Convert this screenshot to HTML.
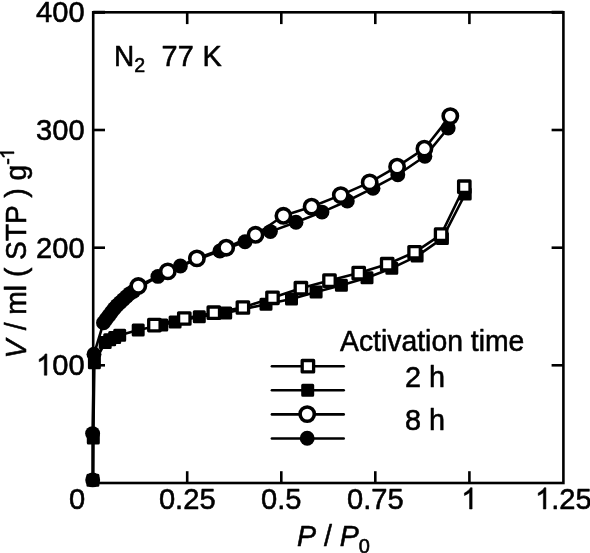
<!DOCTYPE html>
<html><head><meta charset="utf-8"><title>N2 77 K isotherm</title>
<style>
html,body{margin:0;padding:0;background:#fff;}
body{width:590px;height:553px;overflow:hidden;}
svg{display:block;font-family:"Liberation Sans",sans-serif;font-size:28px;fill:#000;will-change:transform;}
svg text{stroke:#000;stroke-width:0.55px;stroke-linejoin:round;}
svg path.g1{stroke:#000;stroke-width:0.55px;vector-effect:non-scaling-stroke;stroke-linejoin:round;}
</style></head><body>
<svg width="590" height="553" viewBox="0 0 590 553">
<rect x="0" y="0" width="590" height="553" fill="#fff"/>
<rect x="93.2" y="12.3" width="470.2" height="470.7" fill="none" stroke="#000" stroke-width="2.6"/>
<line x1="187.2" y1="483.0" x2="187.2" y2="471.2" stroke="#000" stroke-width="2.6" stroke-linecap="butt"/>
<line x1="187.2" y1="12.3" x2="187.2" y2="24.1" stroke="#000" stroke-width="2.6" stroke-linecap="butt"/>
<line x1="281.3" y1="483.0" x2="281.3" y2="471.2" stroke="#000" stroke-width="2.6" stroke-linecap="butt"/>
<line x1="281.3" y1="12.3" x2="281.3" y2="24.1" stroke="#000" stroke-width="2.6" stroke-linecap="butt"/>
<line x1="375.3" y1="483.0" x2="375.3" y2="471.2" stroke="#000" stroke-width="2.6" stroke-linecap="butt"/>
<line x1="375.3" y1="12.3" x2="375.3" y2="24.1" stroke="#000" stroke-width="2.6" stroke-linecap="butt"/>
<line x1="469.4" y1="483.0" x2="469.4" y2="471.2" stroke="#000" stroke-width="2.6" stroke-linecap="butt"/>
<line x1="469.4" y1="12.3" x2="469.4" y2="24.1" stroke="#000" stroke-width="2.6" stroke-linecap="butt"/>
<line x1="93.2" y1="365.3" x2="105.0" y2="365.3" stroke="#000" stroke-width="2.6" stroke-linecap="butt"/>
<line x1="563.4" y1="365.3" x2="551.6" y2="365.3" stroke="#000" stroke-width="2.6" stroke-linecap="butt"/>
<line x1="93.2" y1="247.7" x2="105.0" y2="247.7" stroke="#000" stroke-width="2.6" stroke-linecap="butt"/>
<line x1="563.4" y1="247.7" x2="551.6" y2="247.7" stroke="#000" stroke-width="2.6" stroke-linecap="butt"/>
<line x1="93.2" y1="130.0" x2="105.0" y2="130.0" stroke="#000" stroke-width="2.6" stroke-linecap="butt"/>
<line x1="563.4" y1="130.0" x2="551.6" y2="130.0" stroke="#000" stroke-width="2.6" stroke-linecap="butt"/>
<line x1="551.6" y1="12.3" x2="563.4" y2="12.3" stroke="#000" stroke-width="3.1" stroke-linecap="butt"/>
<line x1="93.2" y1="12.3" x2="105.0" y2="12.3" stroke="#000" stroke-width="3.1" stroke-linecap="butt"/>
<polyline points="92.9,480.2 93.3,438.0 94.4,362.7 105.2,342.4 109.7,339.7 114.7,337.4 119.7,335.3 138.2,330.0 161.8,325.1 175.1,322.0 199.3,316.8 225.7,313.1 266.0,304.2 291.5,298.9 316.1,292.0 341.4,285.2 367.0,277.8 391.8,268.2 417.1,256.1 442.4,238.4 465.2,194.0" fill="none" stroke="#000" stroke-width="2.6" stroke-linejoin="round" stroke-linecap="round"/>
<polyline points="154.4,325.1 184.3,318.5 213.8,312.7 242.9,307.5 272.5,297.8 300.9,288.2 329.5,280.6 358.7,273.1 387.2,264.2 414.6,252.3 441.1,234.6 464.3,186.7" fill="none" stroke="#000" stroke-width="2.6" stroke-linejoin="round" stroke-linecap="round"/>
<polyline points="92.7,479.9 92.6,433.6 94.0,354.2 103.5,322.8 106.1,319.3 108.8,315.8 111.4,312.2 114.1,308.8 117.0,305.5 120.2,302.5 123.4,299.5 126.6,296.5 129.9,293.6 133.6,291.2 157.9,276.4 180.4,266.0 219.9,251.0 245.0,241.8 270.4,231.6 296.0,222.3 322.0,212.1 347.3,201.0 373.0,188.2 397.8,174.8 424.9,156.3 448.2,128.0" fill="none" stroke="#000" stroke-width="2.6" stroke-linejoin="round" stroke-linecap="round"/>
<polyline points="138.3,286.0 167.8,271.4 196.9,258.4 226.2,247.7 255.5,234.8 283.4,215.8 311.6,206.7 340.8,195.1 369.7,182.4 397.1,166.7 424.4,148.7 450.3,116.1" fill="none" stroke="#000" stroke-width="2.6" stroke-linejoin="round" stroke-linecap="round"/>
<rect x="87.4" y="474.7" width="11" height="11" rx="0.5" fill="#000" stroke="#000" stroke-width="2" stroke-linejoin="round"/>
<rect x="87.8" y="432.5" width="11" height="11" rx="0.5" fill="#000" stroke="#000" stroke-width="2" stroke-linejoin="round"/>
<rect x="88.9" y="357.2" width="11" height="11" rx="0.5" fill="#000" stroke="#000" stroke-width="2" stroke-linejoin="round"/>
<rect x="99.7" y="336.9" width="11" height="11" rx="0.5" fill="#000" stroke="#000" stroke-width="2" stroke-linejoin="round"/>
<rect x="104.2" y="334.2" width="11" height="11" rx="0.5" fill="#000" stroke="#000" stroke-width="2" stroke-linejoin="round"/>
<rect x="109.2" y="331.9" width="11" height="11" rx="0.5" fill="#000" stroke="#000" stroke-width="2" stroke-linejoin="round"/>
<rect x="114.2" y="329.8" width="11" height="11" rx="0.5" fill="#000" stroke="#000" stroke-width="2" stroke-linejoin="round"/>
<rect x="132.7" y="324.5" width="11" height="11" rx="0.5" fill="#000" stroke="#000" stroke-width="2" stroke-linejoin="round"/>
<rect x="156.3" y="319.6" width="11" height="11" rx="0.5" fill="#000" stroke="#000" stroke-width="2" stroke-linejoin="round"/>
<rect x="169.6" y="316.5" width="11" height="11" rx="0.5" fill="#000" stroke="#000" stroke-width="2" stroke-linejoin="round"/>
<rect x="193.8" y="311.3" width="11" height="11" rx="0.5" fill="#000" stroke="#000" stroke-width="2" stroke-linejoin="round"/>
<rect x="220.2" y="307.6" width="11" height="11" rx="0.5" fill="#000" stroke="#000" stroke-width="2" stroke-linejoin="round"/>
<rect x="260.5" y="298.7" width="11" height="11" rx="0.5" fill="#000" stroke="#000" stroke-width="2" stroke-linejoin="round"/>
<rect x="286.0" y="293.4" width="11" height="11" rx="0.5" fill="#000" stroke="#000" stroke-width="2" stroke-linejoin="round"/>
<rect x="310.6" y="286.5" width="11" height="11" rx="0.5" fill="#000" stroke="#000" stroke-width="2" stroke-linejoin="round"/>
<rect x="335.9" y="279.7" width="11" height="11" rx="0.5" fill="#000" stroke="#000" stroke-width="2" stroke-linejoin="round"/>
<rect x="361.5" y="272.3" width="11" height="11" rx="0.5" fill="#000" stroke="#000" stroke-width="2" stroke-linejoin="round"/>
<rect x="386.3" y="262.7" width="11" height="11" rx="0.5" fill="#000" stroke="#000" stroke-width="2" stroke-linejoin="round"/>
<rect x="411.6" y="250.6" width="11" height="11" rx="0.5" fill="#000" stroke="#000" stroke-width="2" stroke-linejoin="round"/>
<rect x="436.9" y="232.9" width="11" height="11" rx="0.5" fill="#000" stroke="#000" stroke-width="2" stroke-linejoin="round"/>
<rect x="459.7" y="188.5" width="11" height="11" rx="0.5" fill="#000" stroke="#000" stroke-width="2" stroke-linejoin="round"/>
<circle cx="92.7" cy="479.9" r="7.45" fill="#000"/>
<circle cx="92.6" cy="433.6" r="7.45" fill="#000"/>
<circle cx="94.0" cy="354.2" r="7.45" fill="#000"/>
<circle cx="103.5" cy="322.8" r="7.45" fill="#000"/>
<circle cx="106.1" cy="319.3" r="7.45" fill="#000"/>
<circle cx="108.8" cy="315.8" r="7.45" fill="#000"/>
<circle cx="111.4" cy="312.2" r="7.45" fill="#000"/>
<circle cx="114.1" cy="308.8" r="7.45" fill="#000"/>
<circle cx="117.0" cy="305.5" r="7.45" fill="#000"/>
<circle cx="120.2" cy="302.5" r="7.45" fill="#000"/>
<circle cx="123.4" cy="299.5" r="7.45" fill="#000"/>
<circle cx="126.6" cy="296.5" r="7.45" fill="#000"/>
<circle cx="129.9" cy="293.6" r="7.45" fill="#000"/>
<circle cx="133.6" cy="291.2" r="7.45" fill="#000"/>
<circle cx="157.9" cy="276.4" r="7.45" fill="#000"/>
<circle cx="180.4" cy="266.0" r="7.45" fill="#000"/>
<circle cx="219.9" cy="251.0" r="7.45" fill="#000"/>
<circle cx="245.0" cy="241.8" r="7.45" fill="#000"/>
<circle cx="270.4" cy="231.6" r="7.45" fill="#000"/>
<circle cx="296.0" cy="222.3" r="7.45" fill="#000"/>
<circle cx="322.0" cy="212.1" r="7.45" fill="#000"/>
<circle cx="347.3" cy="201.0" r="7.45" fill="#000"/>
<circle cx="373.0" cy="188.2" r="7.45" fill="#000"/>
<circle cx="397.8" cy="174.8" r="7.45" fill="#000"/>
<circle cx="424.9" cy="156.3" r="7.45" fill="#000"/>
<circle cx="448.2" cy="128.0" r="7.45" fill="#000"/>
<rect x="148.70" y="319.40" width="11.4" height="11.4" fill="#fff" stroke="#000" stroke-width="3.3" stroke-linejoin="round"/>
<rect x="178.60" y="312.80" width="11.4" height="11.4" fill="#fff" stroke="#000" stroke-width="3.3" stroke-linejoin="round"/>
<rect x="208.10" y="307.00" width="11.4" height="11.4" fill="#fff" stroke="#000" stroke-width="3.3" stroke-linejoin="round"/>
<rect x="237.20" y="301.80" width="11.4" height="11.4" fill="#fff" stroke="#000" stroke-width="3.3" stroke-linejoin="round"/>
<rect x="266.80" y="292.10" width="11.4" height="11.4" fill="#fff" stroke="#000" stroke-width="3.3" stroke-linejoin="round"/>
<rect x="295.20" y="282.50" width="11.4" height="11.4" fill="#fff" stroke="#000" stroke-width="3.3" stroke-linejoin="round"/>
<rect x="323.80" y="274.90" width="11.4" height="11.4" fill="#fff" stroke="#000" stroke-width="3.3" stroke-linejoin="round"/>
<rect x="353.00" y="267.40" width="11.4" height="11.4" fill="#fff" stroke="#000" stroke-width="3.3" stroke-linejoin="round"/>
<rect x="381.50" y="258.50" width="11.4" height="11.4" fill="#fff" stroke="#000" stroke-width="3.3" stroke-linejoin="round"/>
<rect x="408.90" y="246.60" width="11.4" height="11.4" fill="#fff" stroke="#000" stroke-width="3.3" stroke-linejoin="round"/>
<rect x="435.40" y="228.90" width="11.4" height="11.4" fill="#fff" stroke="#000" stroke-width="3.3" stroke-linejoin="round"/>
<rect x="458.60" y="181.00" width="11.4" height="11.4" fill="#fff" stroke="#000" stroke-width="3.3" stroke-linejoin="round"/>
<circle cx="138.3" cy="286.0" r="7.15" fill="#fff" stroke="#000" stroke-width="3.6"/>
<circle cx="167.8" cy="271.4" r="7.15" fill="#fff" stroke="#000" stroke-width="3.6"/>
<circle cx="196.9" cy="258.4" r="7.15" fill="#fff" stroke="#000" stroke-width="3.6"/>
<circle cx="226.2" cy="247.7" r="7.15" fill="#fff" stroke="#000" stroke-width="3.6"/>
<circle cx="255.5" cy="234.8" r="7.15" fill="#fff" stroke="#000" stroke-width="3.6"/>
<circle cx="283.4" cy="215.8" r="7.15" fill="#fff" stroke="#000" stroke-width="3.6"/>
<circle cx="311.6" cy="206.7" r="7.15" fill="#fff" stroke="#000" stroke-width="3.6"/>
<circle cx="340.8" cy="195.1" r="7.15" fill="#fff" stroke="#000" stroke-width="3.6"/>
<circle cx="369.7" cy="182.4" r="7.15" fill="#fff" stroke="#000" stroke-width="3.6"/>
<circle cx="397.1" cy="166.7" r="7.15" fill="#fff" stroke="#000" stroke-width="3.6"/>
<circle cx="424.4" cy="148.7" r="7.15" fill="#fff" stroke="#000" stroke-width="3.6"/>
<circle cx="450.3" cy="116.1" r="7.15" fill="#fff" stroke="#000" stroke-width="3.6"/>
<line x1="271.9" y1="366.3" x2="343.7" y2="366.3" stroke="#000" stroke-width="2.6" stroke-linecap="round"/>
<line x1="271.9" y1="390.3" x2="343.7" y2="390.3" stroke="#000" stroke-width="2.6" stroke-linecap="round"/>
<line x1="271.9" y1="414.4" x2="343.7" y2="414.4" stroke="#000" stroke-width="2.6" stroke-linecap="round"/>
<line x1="271.9" y1="438.5" x2="343.7" y2="438.5" stroke="#000" stroke-width="2.6" stroke-linecap="round"/>
<rect x="302.20" y="360.50" width="11.4" height="11.4" fill="#fff" stroke="#000" stroke-width="3.3" stroke-linejoin="round"/>
<rect x="302.2" y="384.8" width="11" height="11" rx="0.5" fill="#000" stroke="#000" stroke-width="2" stroke-linejoin="round"/>
<circle cx="307.2" cy="414.1" r="7.15" fill="#fff" stroke="#000" stroke-width="3.6"/>
<circle cx="307.2" cy="438.3" r="7.45" fill="#000"/>
<path class="g1" transform="translate(36.03,375.22) scale(0.01422,-0.01449)" d="M763 0H583V1147Q518 1085 412.5 1023T223 930V1104Q373 1174.5 485 1275T644 1470H763Z"/>
<text transform="translate(52.22,375.22) scale(1.040,1.060)" text-anchor="start" font-size="28">00</text>
<text transform="translate(36.03,257.55) scale(1.040,1.060)" text-anchor="start" font-size="28">200</text>
<text transform="translate(36.03,139.88) scale(1.040,1.060)" text-anchor="start" font-size="28">300</text>
<text transform="translate(36.03,22.20) scale(1.040,1.060)" text-anchor="start" font-size="28">400</text>
<text transform="translate(68.90,509.20) scale(1.040,1.060)" text-anchor="start" font-size="28">0</text>
<text transform="translate(158.91,509.00) scale(1.040,1.060)" text-anchor="start" font-size="28">0.25</text>
<text transform="translate(261.04,509.00) scale(1.040,1.060)" text-anchor="start" font-size="28">0.5</text>
<text transform="translate(346.99,509.00) scale(1.040,1.060)" text-anchor="start" font-size="28">0.75</text>
<path class="g1" transform="translate(461.26,509.00) scale(0.01422,-0.01449)" d="M763 0H583V1147Q518 1085 412.5 1023T223 930V1104Q373 1174.5 485 1275T644 1470H763Z"/>
<path class="g1" transform="translate(535.07,509.00) scale(0.01422,-0.01449)" d="M763 0H583V1147Q518 1085 412.5 1023T223 930V1104Q373 1174.5 485 1275T644 1470H763Z"/>
<text transform="translate(551.26,509.00) scale(1.040,1.060)" text-anchor="start" font-size="28">.25</text>
<text transform="translate(114.00,66.10) scale(1.000,1.060)" text-anchor="start" >N</text>
<text transform="translate(134.20,72.10) scale(1.000,1.040)" text-anchor="start" font-size="19.6">2</text>
<text transform="translate(161.60,66.10) scale(1.030,1.060)" text-anchor="start" >77</text>
<text transform="translate(202.40,66.10) scale(1.030,1.060)" text-anchor="start" >K</text>
<text transform="translate(340.00,350.80) scale(1.013,1.060)" text-anchor="start" >Activation time</text>
<text transform="translate(405.00,386.60) scale(1.030,1.060)" text-anchor="start" >2 h</text>
<text transform="translate(405.00,430.20) scale(1.030,1.060)" text-anchor="start" >8 h</text>
<text transform="translate(296.90,546.00) scale(1.020,1.060)" text-anchor="start" ><tspan font-style="italic">P</tspan> / <tspan font-style="italic">P</tspan><tspan font-size="19.6" dy="6.5">0</tspan></text>
<g transform="translate(26.4,358.5) rotate(-90) scale(1.007,1.035)"><text x="0" y="0"><tspan font-style="italic">V</tspan><tspan dx="1.5"> </tspan>/ ml ( STP ) g<tspan font-size="19.6" dy="-12">-</tspan></text><path class="g1" transform="translate(197.9,-12) scale(0.00957,-0.00957)" d="M763 0H583V1147Q518 1085 412.5 1023T223 930V1104Q373 1174.5 485 1275T644 1470H763Z"/></g>
</svg>
</body></html>
